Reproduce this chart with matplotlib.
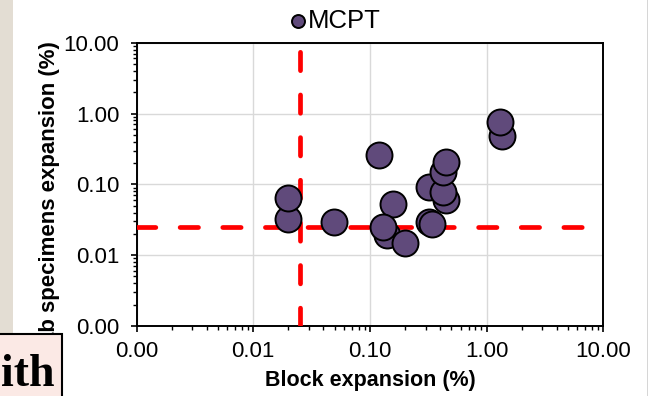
import numpy as np
import matplotlib
matplotlib.use('Agg')
import matplotlib.pyplot as plt
from matplotlib.patches import Rectangle
from matplotlib.ticker import LogLocator, FormatStrFormatter, NullFormatter

# block expansion vs slab specimen expansion (%), MCPT series
block_exp = [0.0198, 0.0198, 0.0494, 0.120, 0.157, 0.140, 0.129, 0.198,
             0.318, 0.340, 0.324, 0.449, 0.423, 0.423, 0.451, 1.36, 1.29]
slab_exp = [0.0324, 0.0637, 0.0292, 0.26, 0.0528, 0.0193, 0.0253, 0.0150,
            0.0297, 0.0276, 0.091, 0.060, 0.0789, 0.151, 0.205, 0.483, 0.753]
limit_block = 0.025
limit_slab = 0.025
axis_range = [0.001, 10]

plt.rcParams['font.family'] = ['Liberation Sans', 'DejaVu Sans']
plt.rcParams['lines.scale_dashes'] = False

fig = plt.figure(figsize=(6.48, 3.96), dpi=100)
W, H = 648.0, 396.0
ax = fig.add_axes([136.5 / W, 1 - 326 / H, (603.3 - 136.5) / W, (326 - 42.7) / H])

ax.set_xscale('log')
ax.set_yscale('log')
ax.set_xlim(axis_range)
ax.set_ylim(axis_range)

dash = (0, (13.2, 17.5))
ax.plot(axis_range, [limit_slab, limit_slab], color='#ff0000', lw=3.4,
        linestyle=dash, dash_capstyle='round', zorder=3)
ax.plot([limit_block, limit_block], axis_range, color='#ff0000', lw=3.4,
        linestyle=dash, dash_capstyle='round', zorder=3)

ax.scatter(block_exp, slab_exp, s=350, c='#604a7b', edgecolors='black',
           linewidths=1.4, zorder=4, label='MCPT')

ax.grid(True, which='major', color='#d9d9d9', lw=1.0)
ax.set_axisbelow(True)

for a in (ax.xaxis, ax.yaxis):
    a.set_major_locator(LogLocator(base=10, numticks=10))
    a.set_minor_locator(LogLocator(base=10, subs=np.arange(2, 10), numticks=10))
    a.set_major_formatter(FormatStrFormatter('%.2f'))
    a.set_minor_formatter(NullFormatter())

ax.tick_params(which='major', direction='out', length=4.5, width=1.2,
               labelsize=16, colors='black')
ax.tick_params(which='minor', direction='out', length=2.8, width=1.0)
ax.tick_params(axis='x', which='major', pad=6)
ax.tick_params(axis='y', which='major', pad=8)
for sp in ax.spines.values():
    sp.set_linewidth(1.4)
    sp.set_color('black')

ax.set_xlabel('Block expansion (%)', fontsize=15.5, fontweight='bold', labelpad=6)
fig.text(50 / W, 1 - 41 / H, 'Slab specimens expansion (%)', rotation=90,
         ha='center', va='top', fontsize=16, fontweight='bold')

fig.legend(loc='center', bbox_to_anchor=(333 / W, 1 - 21 / H), frameon=False,
           fontsize=18.5, markerscale=0.5, handletextpad=-0.1, borderpad=0,
           handlelength=1.0)

# slide background pieces around the chart
fig.patches.append(Rectangle((0, 1 - 334 / H), 13 / W, 334 / H,
                             transform=fig.transFigure, facecolor='#e3ddd3',
                             edgecolor='none', zorder=1))
fig.patches.append(Rectangle((647 / W, 0), 1 / W, 1, transform=fig.transFigure,
                             facecolor='#d6d6d6', edgecolor='none', zorder=1))
box = Rectangle((-0.02, -0.02), 62 / W + 0.02, 1 - 334 / H + 0.02,
                transform=fig.transFigure, facecolor='#fbe9e5',
                edgecolor='black', lw=1.5, zorder=10)
fig.patches.append(box)
fig.text(1 / W, 0.5 / H, 'ith', ha='left', va='bottom', fontsize=33,
         fontweight='bold', family='Liberation Serif', zorder=11)

fig.savefig('out.png', dpi=100)
